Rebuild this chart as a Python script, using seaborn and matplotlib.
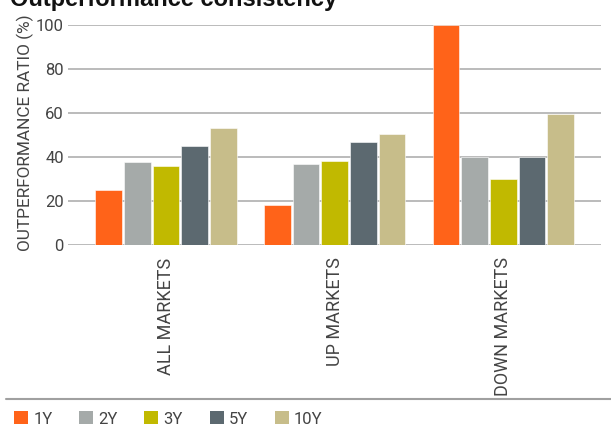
import numpy as np
import matplotlib
matplotlib.use("Agg")
import matplotlib.pyplot as plt
from matplotlib.patches import Patch
from matplotlib.lines import Line2D
import seaborn as sns
import pandas as pd

sns.set_theme(style="white")
plt.rcParams['font.family'] = ['Roboto', 'DejaVu Sans']
plt.rcParams['font.weight'] = 'normal'

markets = ["ALL MARKETS", "UP MARKETS", "DOWN MARKETS"]
periods = ["1Y", "2Y", "3Y", "5Y", "10Y"]
ratio_1y = [25.0, 18.0, 100.0]
ratio_2y = [37.6, 36.8, 40.0]
ratio_3y = [35.9, 38.3, 30.0]
ratio_5y = [44.9, 46.7, 40.0]
ratio_10y = [53.2, 50.6, 59.4]
colors = ["#FF6319", "#A5AAA9", "#C1B900", "#5C6970", "#C7BD8A"]

values = [ratio_1y, ratio_2y, ratio_3y, ratio_5y, ratio_10y]
rows = []
for p, vals in zip(periods, values):
    for m, v in zip(markets, vals):
        rows.append({"market": m, "period": p, "ratio": v})
df = pd.DataFrame(rows)

text_col = "#444444"
W, H = 611, 429
fig = plt.figure(figsize=(W / 100, H / 100), dpi=100)
ax = fig.add_axes([68 / W, 1 - 245 / H, 533 / W, 220 / H])

sns.barplot(data=df, x="market", y="ratio", hue="period", order=markets,
            hue_order=periods, palette=colors, saturation=1, width=0.851,
            gap=0.07, legend=False, ax=ax, edgecolor="white", linewidth=0.4)

ax.set_xlim(-0.582, 2.579)
ax.set_ylim(0, 100)
ax.set_yticks(np.arange(0, 101, 20))
ax.grid(axis="y", color="#a8a8a8", linewidth=1.1)
ax.set_axisbelow(True)
for sp in ax.spines.values():
    sp.set_visible(False)

ax.tick_params(axis="y", length=0, pad=3, labelsize=12, labelcolor=text_col)
ax.tick_params(axis="x", length=0, pad=9, labelsize=13, labelcolor=text_col)
ax.set_xticks(range(len(markets)))
ax.set_xticklabels(markets, rotation=90, va="top", ha="center")
ax.set_xlabel("")
ax.set_ylabel("OUTPERFORMANCE RATIO (%)", fontsize=12.4, fontweight="normal",
              color=text_col, va="center")
ax.yaxis.set_label_coords((25 - 68) / 533, (245 - 133) / 220)

fig.text(10 / W, 1 - 6 / H, "Outperformance consistency", fontsize=17,
         fontweight="bold", family=["Liberation Sans", "DejaVu Sans"],
         color="#111111", va="baseline", ha="left")

fig.add_artist(Line2D([6 / W, 1.0], [1 - 399 / H] * 2, transform=fig.transFigure,
                      color="#a0a0a0", linewidth=1.5))

handles = [Patch(facecolor=c, edgecolor="none") for c in colors]
fig.legend(handles, periods, ncol=5, loc="center left",
           bbox_to_anchor=(14 / W, 1 - 419 / H), frameon=False, fontsize=12,
           handlelength=0.85, handleheight=0.8, handletextpad=0.3,
           columnspacing=1.6, borderpad=0, borderaxespad=0, labelcolor=text_col)

fig.savefig("out.png", dpi=100)
